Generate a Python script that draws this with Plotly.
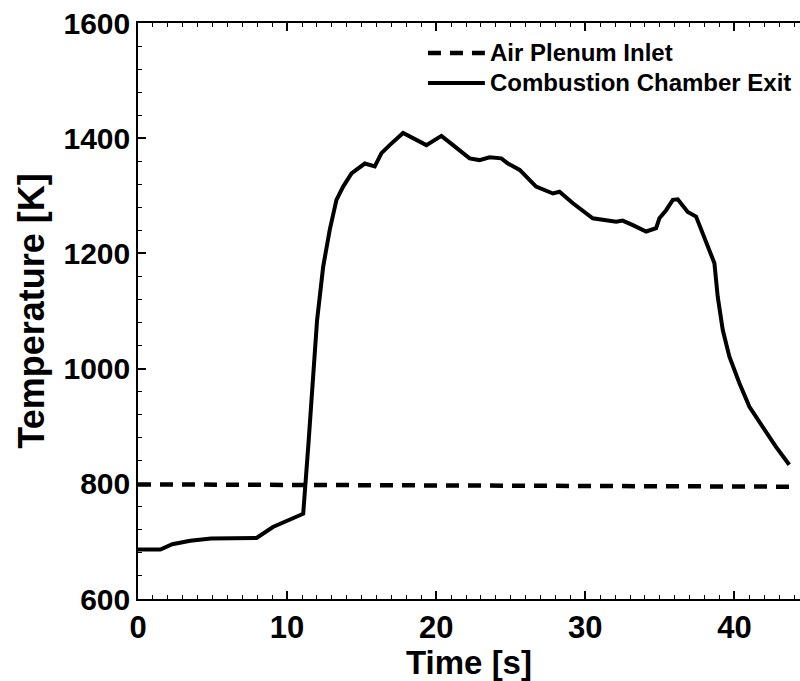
import plotly.graph_objects as go

# Combustion chamber exit temperature history
t_exit = [0, 1.5, 2.3, 3.5, 4.9, 7.95, 9.05, 11.08, 11.45, 12.01, 12.42, 12.86,
          13.31, 13.76, 14.32, 15.21, 15.88, 16.33, 16.88, 17.78, 19.34, 20.35,
          21.13, 22.24, 22.9, 23.58, 24.37, 24.81, 25.6, 26.7, 27.83, 28.27,
          29.17, 30.5, 32.07, 32.5, 33.19, 33.64, 34.08, 34.75, 34.97, 35.42,
          35.87, 36.2, 36.87, 37.43, 37.88, 38.44, 38.66, 38.88, 39.22, 39.66,
          40.33, 41.0, 41.9, 42.79, 43.68]
T_exit = [686, 686, 695, 701, 705, 706, 725, 748, 876, 1084, 1177, 1241,
          1293, 1316, 1339, 1356, 1351, 1374, 1388, 1409, 1388, 1404,
          1388, 1365, 1362, 1367, 1365, 1356, 1345, 1316, 1304, 1307,
          1287, 1261, 1255, 1257, 1249, 1244, 1238, 1244, 1261, 1275,
          1293, 1294, 1272, 1264, 1235, 1200, 1183, 1125, 1067, 1021,
          975, 934, 899, 864, 833]

# Air plenum inlet temperature history
t_inlet = [0, 10, 20, 30, 43.7]
T_inlet = [799, 798, 797, 796, 795]

x_ticks = [0, 10, 20, 30, 40]
y_ticks = [600, 800, 1000, 1200, 1400, 1600]

FONT = "Liberation Sans"
DASH = "13px,9px"

series = [
    ("Air Plenum Inlet", t_inlet, T_inlet, dict(color="black", width=4.5, dash=DASH)),
    ("Combustion Chamber Exit", t_exit, T_exit, dict(color="black", width=4)),
]

fig = go.Figure()
for name, xs, ys, line in series:
    fig.add_trace(go.Scatter(x=xs, y=ys, mode="lines", name=name, line=line,
                             showlegend=False))

# Legend key drawn in paper coordinates (sample line + label per row)
legend_rows_y = [0.948, 0.896]
for (name, _, _, line), yy in zip(series, legend_rows_y):
    fig.add_shape(type="line", xref="paper", yref="paper",
                  x0=0.438, x1=0.524, y0=yy, y1=yy,
                  line=dict(color="black", width=line["width"],
                            dash=line.get("dash", "solid")))
    fig.add_annotation(xref="paper", yref="paper", x=0.529, y=yy,
                       xanchor="left", yanchor="middle", showarrow=False,
                       text=name,
                       font=dict(family=FONT, size=24, weight="bold", color="black"))

fig.update_layout(
    width=800, height=681,
    margin=dict(l=138, r=0, t=23, b=82),
    paper_bgcolor="white", plot_bgcolor="white",
    font=dict(family=FONT, color="black"),
    showlegend=False,
)

fig.update_xaxes(
    range=[0, 44.4], tickvals=x_ticks, ticktext=[str(v) for v in x_ticks],
    showgrid=False, zeroline=False,
    showline=True, linecolor="black", linewidth=1.5, mirror="ticks",
    ticks="inside", ticklen=8, tickwidth=1.5, tickcolor="black",
    minor=dict(dtick=1, ticks="inside", ticklen=4, tickwidth=1, tickcolor="black"),
    tickfont=dict(family=FONT, size=31, weight="bold", color="black"),
    title=dict(text="Time [s]", standoff=4,
               font=dict(family=FONT, size=33, weight="bold", color="black")),
    automargin=False,
)
fig.update_yaxes(
    range=[600, 1600], tickvals=y_ticks, ticktext=[str(v) for v in y_ticks],
    showgrid=False, zeroline=False,
    showline=True, linecolor="black", linewidth=1.5, mirror=False,
    ticks="inside", ticklen=8, tickwidth=1.5, tickcolor="black",
    minor=dict(dtick=40, ticks="inside", ticklen=4, tickwidth=1, tickcolor="black"),
    tickfont=dict(family=FONT, size=30, weight="bold", color="black"),
    title=dict(text="Temperature [K]", standoff=8,
               font=dict(family=FONT, size=36, weight="bold", color="black")),
    automargin=False,
)

fig.write_html("out.html")
